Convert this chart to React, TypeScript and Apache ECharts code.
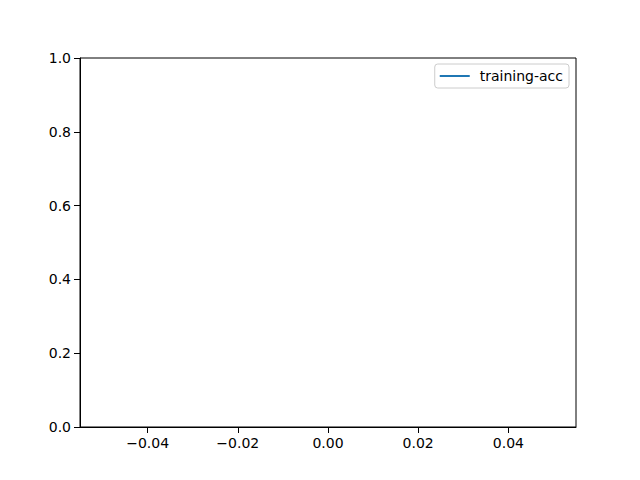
import { useEffect, useRef } from "react";
import * as echarts from "echarts";

// the run logged no finite accuracy values, so the line draws nothing
const steps = [0];
const trainingAcc: (number | null)[] = [null];

const xTicks = [-0.04, -0.02, 0, 0.02, 0.04];
const xRange = [-0.055, 0.055];
const yRange = [0, 1];

const font = "DejaVu Sans";
const minus = (s: string) => s.replace("-", "\u2212");

export default function App() {
  const chartRef = useRef<HTMLDivElement>(null);

  useEffect(() => {
    if (!chartRef.current) return;
    const chart = echarts.init(chartRef.current, undefined, { renderer: "svg" });

    const option: echarts.EChartsOption = {
      animation: false,
      grid: {
        left: 80,
        top: 58,
        width: 496,
        height: 369,
        show: true,
        borderColor: "#000000",
      },
      legend: {
        data: [{ name: "training-acc", icon: "rect" }],
        right: 71,
        top: 64,
        itemWidth: 30,
        itemHeight: 2,
        padding: [5, 6, 5, 5],
        borderColor: "#cccccc",
        borderWidth: 1,
        borderRadius: 3,
        backgroundColor: "rgba(255,255,255,0.8)",
        textStyle: {
          fontFamily: font,
          fontSize: 14,
          color: "#000000",
          padding: [0, 0, 0, 5],
        },
      },
      xAxis: {
        type: "value",
        min: xRange[0],
        max: xRange[1],
        splitLine: { show: false },
        axisLine: { onZero: false, lineStyle: { color: "#000000" } },
        axisTick: {
          show: true,
          customValues: xTicks,
          length: 6,
          lineStyle: { color: "#000000", width: 1 },
        },
        axisLabel: {
          customValues: xTicks,
          fontFamily: font,
          fontSize: 14,
          color: "#000000",
          margin: 9,
          formatter: (v: number) => minus(v.toFixed(2)),
        },
      },
      yAxis: {
        type: "value",
        min: yRange[0],
        max: yRange[1],
        interval: 0.2,
        splitLine: { show: false },
        axisLine: { show: true, onZero: false, lineStyle: { color: "#000000" } },
        axisTick: {
          show: true,
          length: 6,
          lineStyle: { color: "#000000", width: 1 },
        },
        axisLabel: {
          fontFamily: font,
          fontSize: 14,
          color: "#000000",
          margin: 9,
          formatter: (v: number) => v.toFixed(1),
        },
      },
      series: [
        {
          name: "training-acc",
          type: "line",
          data: steps.map((s, i) => [s, trainingAcc[i] ?? "-"]),
          symbol: "none",
          color: "#1f77b4",
          lineStyle: { width: 2, color: "#1f77b4" },
        },
      ],
    };

    chart.setOption(option);
    return () => chart.dispose();
  }, []);

  return (
    <div
      ref={chartRef}
      style={{ position: "absolute", left: 0, top: 0, width: 640, height: 480 }}
    />
  );
}
